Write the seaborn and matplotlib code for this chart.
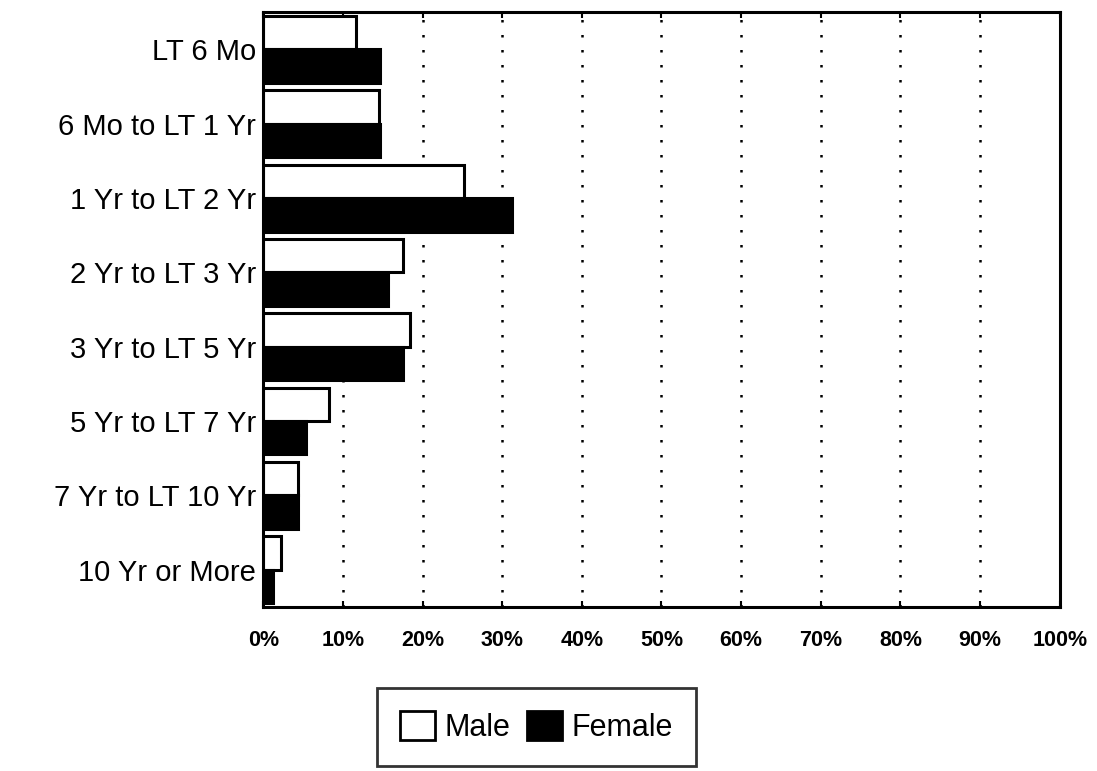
import matplotlib
matplotlib.use("Agg")
import matplotlib.pyplot as plt
import seaborn as sns
import pandas as pd
from matplotlib.patches import Patch

categories = ["LT 6 Mo", "6 Mo to LT 1 Yr", "1 Yr to LT 2 Yr", "2 Yr to LT 3 Yr",
              "3 Yr to LT 5 Yr", "5 Yr to LT 7 Yr", "7 Yr to LT 10 Yr", "10 Yr or More"]
male = [11.6, 14.5, 25.2, 17.6, 18.4, 8.3, 4.3, 2.2]
female = [14.7, 14.6, 31.2, 15.6, 17.6, 5.4, 4.3, 1.2]
xticks = [0, 10, 20, 30, 40, 50, 60, 70, 80, 90, 100]
xtick_labels = [f"{t}%" for t in xticks]

df = pd.DataFrame({
    "category": categories * 2,
    "value": male + female,
    "sex": ["Male"] * len(categories) + ["Female"] * len(categories),
})

sns.set_theme(style="white")
plt.rcParams['font.family'] = ['Liberation Sans', 'DejaVu Sans']

fig = plt.figure(figsize=(10.97, 7.71), dpi=100)
ax = fig.add_axes([0.240, 0.213, 0.726, 0.771])

sns.barplot(data=df, y="category", x="value", hue="sex", order=categories,
            hue_order=["Male", "Female"], palette={"Male": "white", "Female": "black"},
            width=0.9, edgecolor="black", linewidth=2.2, orient="h", ax=ax, legend=False)

ax.set_xlim(0, 100)
ax.set_xticks(xticks)
ax.set_xticklabels(xtick_labels, fontsize=15.5, fontweight="bold")
ax.set_xlabel("")
ax.set_ylabel("")
ax.tick_params(axis="y", labelsize=21, length=0, pad=5)
ax.tick_params(axis="x", direction="in", length=4, width=1.5, top=True, bottom=True, pad=17, colors="black")
for t in ax.get_yticklabels():
    t.set_color("black")
for x in xticks[1:-1]:
    ax.axvline(x, color="black", linestyle=(0, (1, 5)), linewidth=1.8, zorder=0.5)
for s in ax.spines.values():
    s.set_visible(True)
    s.set_color("black")
    s.set_linewidth(2.2)

handles = [Patch(facecolor="white", edgecolor="black", linewidth=2, label="Male"),
           Patch(facecolor="black", edgecolor="black", linewidth=2, label="Female")]
leg = fig.legend(handles=handles, loc="center", bbox_to_anchor=(0.489, 0.057), ncol=2,
                 fontsize=22, frameon=True, fancybox=False, edgecolor="black",
                 handlelength=1.15, handleheight=1.1, handletextpad=0.3, columnspacing=0.55,
                 borderpad=0.75, borderaxespad=0)
leg.get_frame().set_linewidth(2)
for t in leg.get_texts():
    t.set_color("black")

fig.savefig("out.png", dpi=100, facecolor="white")
